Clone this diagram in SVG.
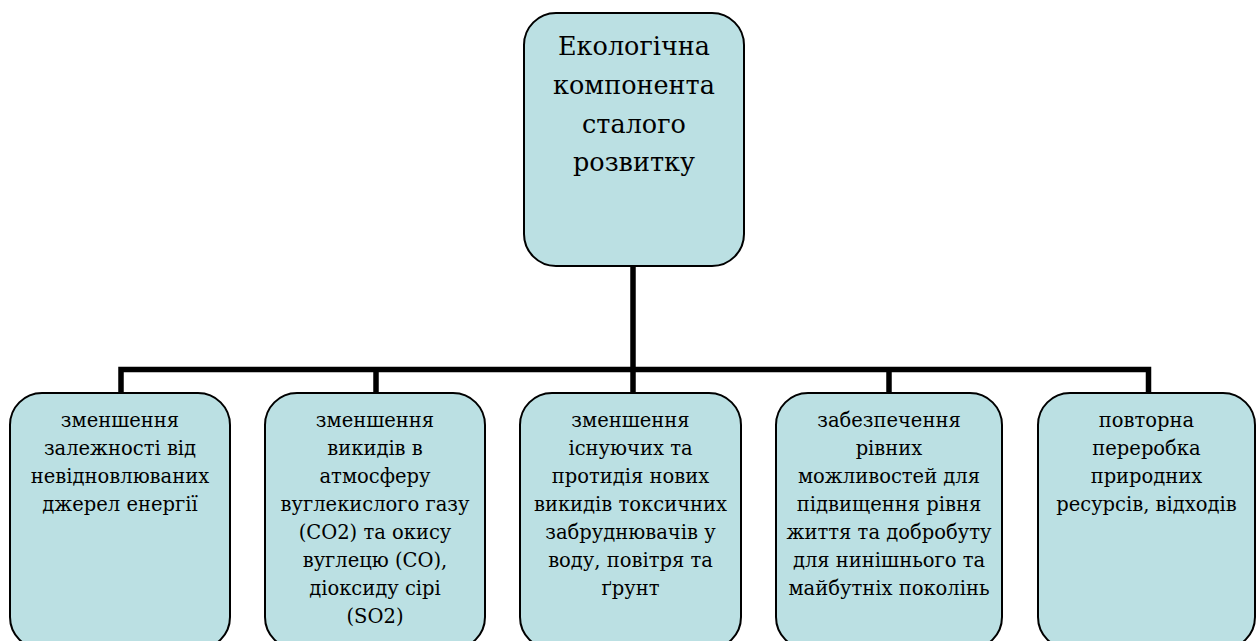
<svg xmlns="http://www.w3.org/2000/svg" width="1256" height="641" viewBox="0 0 1256 641">
<style>
.box{fill:#BBE0E3;stroke:#000;stroke-width:2}
.con{fill:none;stroke:#000;stroke-width:5.5;stroke-linecap:butt;stroke-linejoin:miter}
.t{font-family:"DejaVu Serif","Liberation Serif",serif;fill:#000;text-anchor:middle}
</style>
<rect width="1256" height="641" fill="#fff"/>
<g id="connectors">
<path class="con" d="M633,266 V369.5"/>
<path class="con" d="M121,393 V369.5 H1148.5 V393"/>
<path class="con" d="M376,369.5 V393"/>
<path class="con" d="M633,369.5 V393"/>
<path class="con" d="M889,369.5 V393"/>
</g>
<g id="root" class="t" font-size="25.5">
<rect class="box" x="524" y="13" width="220" height="253" rx="32"/>
<text x="634" y="55">Екологічна</text>
<text x="634" y="94">компонента</text>
<text x="634" y="133">сталого</text>
<text x="634" y="171">розвитку</text>
</g>
<g class="t" font-size="19.5">
<g id="n1">
<rect class="box" x="10" y="393" width="220" height="256" rx="32"/>
<text x="120" y="427">зменшення</text>
<text x="120" y="455">залежності від</text>
<text x="120" y="483">невідновлюваних</text>
<text x="120" y="511">джерел енергії</text>
</g>
<g id="n2">
<rect class="box" x="265" y="393" width="220" height="256" rx="32"/>
<text x="375" y="427">зменшення</text>
<text x="375" y="455">викидів в</text>
<text x="375" y="483">атмосферу</text>
<text x="375" y="511">вуглекислого газу</text>
<text x="375" y="539">(CO2) та окису</text>
<text x="375" y="567">вуглецю (CO),</text>
<text x="375" y="595">діоксиду сірі</text>
<text x="375" y="623">(SO2)</text>
</g>
<g id="n3">
<rect class="box" x="520" y="393" width="221" height="256" rx="32"/>
<text x="630.5" y="427">зменшення</text>
<text x="630.5" y="455">існуючих та</text>
<text x="630.5" y="483">протидія нових</text>
<text x="630.5" y="511">викидів токсичних</text>
<text x="630.5" y="539">забруднювачів у</text>
<text x="630.5" y="567">воду, повітря та</text>
<text x="630.5" y="595">ґрунт</text>
</g>
<g id="n4">
<rect class="box" x="776" y="393" width="226" height="256" rx="32"/>
<text x="889" y="427">забезпечення</text>
<text x="889" y="455">рівних</text>
<text x="889" y="483">можливостей для</text>
<text x="889" y="511">підвищення рівня</text>
<text x="889" y="539">життя та добробуту</text>
<text x="889" y="567">для нинішнього та</text>
<text x="889" y="595">майбутніх поколінь</text>
</g>
<g id="n5">
<rect class="box" x="1038" y="393" width="217" height="256" rx="32"/>
<text x="1146.5" y="427">повторна</text>
<text x="1146.5" y="455">переробка</text>
<text x="1146.5" y="483">природних</text>
<text x="1146.5" y="511">ресурсів, відходів</text>
</g>
</g>
</svg>
